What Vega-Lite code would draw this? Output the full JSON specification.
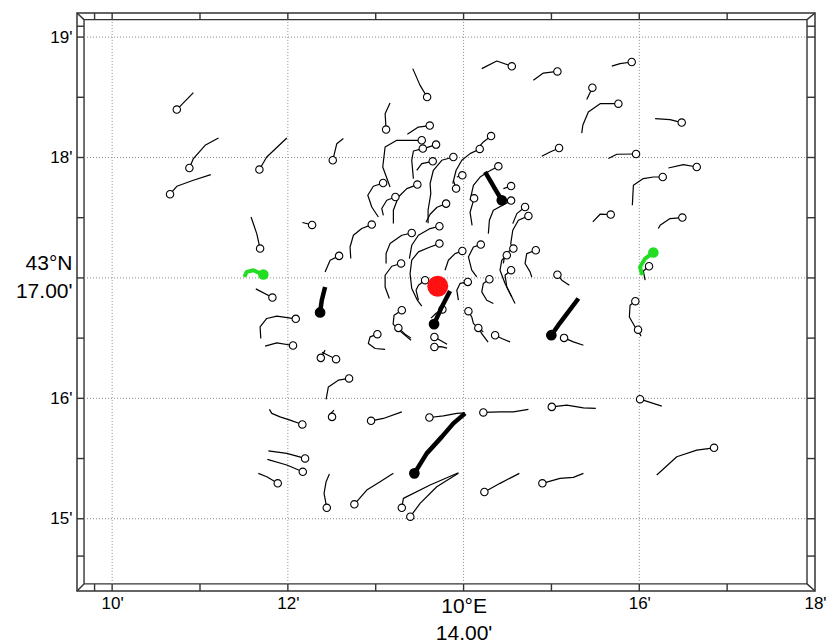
{
"$schema":"https://vega.github.io/schema/vega-lite/v6.json",
"width":738,"height":578,
"autosize":{"type":"none"},
"padding":{"left":77,"top":13,"right":12,"bottom":52},
"background":"#ffffff",
"config":{"view":{"stroke":"#333333","strokeWidth":1.5},"font":"Liberation Sans"},
"datasets":{
"fr":[
{"lon":9.68,"lat":14.459,"lon2":17.909,"lat2":14.459},
{"lon":9.68,"lat":19.145,"lon2":17.909,"lat2":19.145},
{"lon":9.68,"lat":14.459,"lon2":9.68,"lat2":19.145},
{"lon":17.909,"lat":14.459,"lon2":17.909,"lat2":19.145},
{"lon":9.6,"lat":19.2,"lon2":9.68,"lat2":19.145},
{"lon":18,"lat":19.2,"lon2":17.909,"lat2":19.145},
{"lon":9.6,"lat":14.4,"lon2":9.68,"lat2":14.459},
{"lon":18,"lat":14.4,"lon2":17.909,"lat2":14.459},
{"lon":9.8,"lat":14.4,"lon2":9.8,"lat2":14.459},{"lon":9.8,"lat":19.145,"lon2":9.8,"lat2":19.2},
{"lon":10,"lat":14.4,"lon2":10,"lat2":14.459},{"lon":10,"lat":19.145,"lon2":10,"lat2":19.2},
{"lon":11,"lat":14.4,"lon2":11,"lat2":14.459},{"lon":11,"lat":19.145,"lon2":11,"lat2":19.2},
{"lon":12,"lat":14.4,"lon2":12,"lat2":14.459},{"lon":12,"lat":19.145,"lon2":12,"lat2":19.2},
{"lon":13,"lat":14.4,"lon2":13,"lat2":14.459},{"lon":13,"lat":19.145,"lon2":13,"lat2":19.2},
{"lon":14,"lat":14.4,"lon2":14,"lat2":14.459},{"lon":14,"lat":19.145,"lon2":14,"lat2":19.2},
{"lon":15,"lat":14.4,"lon2":15,"lat2":14.459},{"lon":15,"lat":19.145,"lon2":15,"lat2":19.2},
{"lon":16,"lat":14.4,"lon2":16,"lat2":14.459},{"lon":16,"lat":19.145,"lon2":16,"lat2":19.2},
{"lon":17,"lat":14.4,"lon2":17,"lat2":14.459},{"lon":17,"lat":19.145,"lon2":17,"lat2":19.2},
{"lon":9.6,"lat":19.09,"lon2":9.68,"lat2":19.09},{"lon":17.909,"lat":19.09,"lon2":18,"lat2":19.09},
{"lon":9.6,"lat":19,"lon2":9.68,"lat2":19},{"lon":17.909,"lat":19,"lon2":18,"lat2":19},
{"lon":9.6,"lat":18.5,"lon2":9.68,"lat2":18.5},{"lon":17.909,"lat":18.5,"lon2":18,"lat2":18.5},
{"lon":9.6,"lat":18,"lon2":9.68,"lat2":18},{"lon":17.909,"lat":18,"lon2":18,"lat2":18},
{"lon":9.6,"lat":17.5,"lon2":9.68,"lat2":17.5},{"lon":17.909,"lat":17.5,"lon2":18,"lat2":17.5},
{"lon":9.6,"lat":17,"lon2":9.68,"lat2":17},{"lon":17.909,"lat":17,"lon2":18,"lat2":17},
{"lon":9.6,"lat":16.5,"lon2":9.68,"lat2":16.5},{"lon":17.909,"lat":16.5,"lon2":18,"lat2":16.5},
{"lon":9.6,"lat":16,"lon2":9.68,"lat2":16},{"lon":17.909,"lat":16,"lon2":18,"lat2":16},
{"lon":9.6,"lat":15.5,"lon2":9.68,"lat2":15.5},{"lon":17.909,"lat":15.5,"lon2":18,"lat2":15.5},
{"lon":9.6,"lat":15,"lon2":9.68,"lat2":15},{"lon":17.909,"lat":15,"lon2":18,"lat2":15},
{"lon":9.6,"lat":14.69,"lon2":9.68,"lat2":14.69},{"lon":17.909,"lat":14.69,"lon2":18,"lat2":14.69}
],
"gr":[
{"lon":10,"lat":14.459,"lon2":10,"lat2":19.145},
{"lon":12,"lat":14.459,"lon2":12,"lat2":19.145},
{"lon":14,"lat":14.459,"lon2":14,"lat2":19.145},
{"lon":16,"lat":14.459,"lon2":16,"lat2":19.145},
{"lon":9.68,"lat":15,"lon2":17.909,"lat2":15},
{"lon":9.68,"lat":16,"lon2":17.909,"lat2":16},
{"lon":9.68,"lat":17,"lon2":17.909,"lat2":17},
{"lon":9.68,"lat":18,"lon2":17.909,"lat2":18},
{"lon":9.68,"lat":19,"lon2":17.909,"lat2":19}
],
"tr":[
{"id":"a1","k":0,"lon":10.925,"lat":18.539,"t":"n"},{"id":"a1","k":1,"lon":10.736,"lat":18.398,"t":"n","e":1},
{"id":"a2","k":0,"lon":11.21,"lat":18.162,"t":"n"},{"id":"a2","k":1,"lon":11.058,"lat":18.101,"t":"n"},{"id":"a2","k":2,"lon":10.925,"lat":17.991,"t":"n"},{"id":"a2","k":3,"lon":10.879,"lat":17.913,"t":"n","e":1},
{"id":"a3","k":0,"lon":11.123,"lat":17.858,"t":"n"},{"id":"a3","k":1,"lon":10.925,"lat":17.811,"t":"n"},{"id":"a3","k":2,"lon":10.736,"lat":17.761,"t":"n"},{"id":"a3","k":3,"lon":10.659,"lat":17.695,"t":"n","e":1},
{"id":"a4","k":0,"lon":11.988,"lat":18.162,"t":"n"},{"id":"a4","k":1,"lon":11.76,"lat":18.004,"t":"n"},{"id":"a4","k":2,"lon":11.676,"lat":17.9,"t":"n","e":1},
{"id":"a5","k":0,"lon":12.632,"lat":18.157,"t":"n"},{"id":"a5","k":1,"lon":12.557,"lat":18.115,"t":"n"},{"id":"a5","k":2,"lon":12.511,"lat":17.977,"t":"n","e":1},
{"id":"a6","k":0,"lon":12.165,"lat":17.46,"t":"n"},{"id":"a6","k":1,"lon":12.276,"lat":17.44,"t":"n","e":1},
{"id":"a7","k":0,"lon":11.581,"lat":17.506,"t":"n"},{"id":"a7","k":1,"lon":11.646,"lat":17.368,"t":"n"},{"id":"a7","k":2,"lon":11.684,"lat":17.244,"t":"n","e":1},
{"id":"a8","k":0,"lon":11.513,"lat":17.022,"t":"g"},{"id":"a8","k":1,"lon":11.532,"lat":17.05,"t":"g"},{"id":"a8","k":2,"lon":11.608,"lat":17.064,"t":"g"},{"id":"a8","k":3,"lon":11.721,"lat":17.028,"t":"g","e":1},
{"id":"a9","k":0,"lon":11.635,"lat":16.909,"t":"n"},{"id":"a9","k":1,"lon":11.824,"lat":16.837,"t":"n","e":1},
{"id":"a10","k":0,"lon":11.692,"lat":16.497,"t":"n"},{"id":"a10","k":1,"lon":11.684,"lat":16.593,"t":"n"},{"id":"a10","k":2,"lon":11.76,"lat":16.663,"t":"n"},{"id":"a10","k":3,"lon":11.874,"lat":16.682,"t":"n"},{"id":"a10","k":4,"lon":12.09,"lat":16.66,"t":"n","e":1},
{"id":"a11","k":0,"lon":11.741,"lat":16.433,"t":"n"},{"id":"a11","k":1,"lon":11.874,"lat":16.461,"t":"n"},{"id":"a11","k":2,"lon":12.059,"lat":16.439,"t":"n","e":1},
{"id":"a12","k":0,"lon":12.424,"lat":16.925,"t":"b"},{"id":"a12","k":1,"lon":12.386,"lat":16.815,"t":"b"},{"id":"a12","k":2,"lon":12.367,"lat":16.713,"t":"b","e":1},
{"id":"a13","k":0,"lon":12.389,"lat":16.383,"t":"n"},{"id":"a13","k":1,"lon":12.549,"lat":16.325,"t":"n","e":1},
{"id":"a15","k":0,"lon":12.424,"lat":16.4,"t":"n"},{"id":"a15","k":1,"lon":12.375,"lat":16.336,"t":"n","e":1},
{"id":"a14","k":0,"lon":12.424,"lat":17.05,"t":"n"},{"id":"a14","k":1,"lon":12.481,"lat":17.147,"t":"n"},{"id":"a14","k":2,"lon":12.583,"lat":17.183,"t":"n","e":1},
{"id":"B1","k":0,"lon":14.207,"lat":18.738,"t":"n"},{"id":"B1","k":1,"lon":14.378,"lat":18.801,"t":"n"},{"id":"B1","k":2,"lon":14.549,"lat":18.757,"t":"n","e":1},
{"id":"B2","k":0,"lon":14.794,"lat":18.641,"t":"n"},{"id":"B2","k":1,"lon":14.908,"lat":18.701,"t":"n"},{"id":"B2","k":2,"lon":15.068,"lat":18.715,"t":"n","e":1},
{"id":"B3","k":0,"lon":13.422,"lat":18.738,"t":"n"},{"id":"B3","k":1,"lon":13.505,"lat":18.599,"t":"n"},{"id":"B3","k":2,"lon":13.585,"lat":18.502,"t":"n","e":1},
{"id":"B4","k":0,"lon":13.163,"lat":18.452,"t":"n"},{"id":"B4","k":1,"lon":13.107,"lat":18.364,"t":"n"},{"id":"B4","k":2,"lon":13.118,"lat":18.232,"t":"n","e":1},
{"id":"B5","k":0,"lon":13.36,"lat":18.193,"t":"n"},{"id":"B5","k":1,"lon":13.486,"lat":18.253,"t":"n"},{"id":"B5","k":2,"lon":13.615,"lat":18.265,"t":"n","e":1},
{"id":"B6","k":0,"lon":13.163,"lat":17.755,"t":"n"},{"id":"B6","k":1,"lon":13.08,"lat":17.921,"t":"n"},{"id":"B6","k":2,"lon":13.107,"lat":18.087,"t":"n"},{"id":"B6","k":3,"lon":13.24,"lat":18.143,"t":"n"},{"id":"B6","k":4,"lon":13.524,"lat":18.143,"t":"n","e":1},
{"id":"B7","k":0,"lon":13.429,"lat":17.825,"t":"n"},{"id":"B7","k":1,"lon":13.41,"lat":17.977,"t":"n"},{"id":"B7","k":2,"lon":13.429,"lat":18.054,"t":"n"},{"id":"B7","k":3,"lon":13.536,"lat":18.074,"t":"n","e":1},
{"id":"B8","k":0,"lon":13.581,"lat":18.082,"t":"n"},{"id":"B8","k":1,"lon":13.687,"lat":18.107,"t":"n","e":1},
{"id":"B9","k":0,"lon":14.168,"lat":18.082,"t":"n"},{"id":"B9","k":1,"lon":14.225,"lat":18.129,"t":"n"},{"id":"B9","k":2,"lon":14.313,"lat":18.178,"t":"n","e":1},
{"id":"B10","k":0,"lon":13.877,"lat":17.783,"t":"n"},{"id":"B10","k":1,"lon":13.915,"lat":17.894,"t":"n"},{"id":"B10","k":2,"lon":13.98,"lat":17.977,"t":"n"},{"id":"B10","k":3,"lon":14.074,"lat":18.032,"t":"n"},{"id":"B10","k":4,"lon":14.184,"lat":18.071,"t":"n","e":1},
{"id":"B11","k":0,"lon":13.596,"lat":17.454,"t":"n"},{"id":"B11","k":1,"lon":13.596,"lat":17.562,"t":"n"},{"id":"B11","k":2,"lon":13.627,"lat":17.7,"t":"n"},{"id":"B11","k":3,"lon":13.619,"lat":17.783,"t":"n"},{"id":"B11","k":4,"lon":13.656,"lat":17.894,"t":"n"},{"id":"B11","k":5,"lon":13.752,"lat":17.977,"t":"n"},{"id":"B11","k":6,"lon":13.884,"lat":18.004,"t":"n","e":1},
{"id":"B12","k":0,"lon":13.467,"lat":17.894,"t":"n"},{"id":"B12","k":1,"lon":13.524,"lat":17.949,"t":"n"},{"id":"B12","k":2,"lon":13.649,"lat":17.968,"t":"n","e":1},
{"id":"B13","k":0,"lon":13.923,"lat":17.838,"t":"n"},{"id":"B13","k":1,"lon":13.986,"lat":17.852,"t":"n","e":1},
{"id":"B14","k":0,"lon":13.884,"lat":17.811,"t":"n"},{"id":"B14","k":1,"lon":13.915,"lat":17.742,"t":"n","e":1},
{"id":"B15","k":0,"lon":14.074,"lat":17.645,"t":"n"},{"id":"B15","k":1,"lon":14.112,"lat":17.769,"t":"n"},{"id":"B15","k":2,"lon":14.188,"lat":17.838,"t":"n"},{"id":"B15","k":3,"lon":14.294,"lat":17.888,"t":"n"},{"id":"B15","k":4,"lon":14.396,"lat":17.927,"t":"n","e":1},
{"id":"B16","k":0,"lon":14.245,"lat":17.88,"t":"b"},{"id":"B16","k":1,"lon":14.378,"lat":17.714,"t":"b"},{"id":"B16","k":2,"lon":14.435,"lat":17.645,"t":"b","e":1},
{"id":"B17","k":0,"lon":14.453,"lat":17.742,"t":"n"},{"id":"B17","k":1,"lon":14.541,"lat":17.763,"t":"n","e":1},
{"id":"B18","k":0,"lon":14.282,"lat":17.368,"t":"n"},{"id":"B18","k":1,"lon":14.294,"lat":17.479,"t":"n"},{"id":"B18","k":2,"lon":14.339,"lat":17.562,"t":"n"},{"id":"B18","k":3,"lon":14.541,"lat":17.642,"t":"n","e":1},
{"id":"B19","k":0,"lon":14.097,"lat":17.437,"t":"n"},{"id":"B19","k":1,"lon":14.074,"lat":17.545,"t":"n"},{"id":"B19","k":2,"lon":14.12,"lat":17.661,"t":"n","e":1},
{"id":"B20","k":0,"lon":13.573,"lat":17.462,"t":"n"},{"id":"B20","k":1,"lon":13.619,"lat":17.529,"t":"n"},{"id":"B20","k":2,"lon":13.698,"lat":17.587,"t":"n"},{"id":"B20","k":3,"lon":13.801,"lat":17.617,"t":"n","e":1},
{"id":"B21","k":0,"lon":14.56,"lat":17.451,"t":"n"},{"id":"B21","k":1,"lon":14.606,"lat":17.534,"t":"n"},{"id":"B21","k":2,"lon":14.7,"lat":17.589,"t":"n","e":1},
{"id":"B22","k":0,"lon":14.56,"lat":17.23,"t":"n"},{"id":"B22","k":1,"lon":14.537,"lat":17.285,"t":"n"},{"id":"B22","k":2,"lon":14.56,"lat":17.396,"t":"n"},{"id":"B22","k":3,"lon":14.624,"lat":17.479,"t":"n"},{"id":"B22","k":4,"lon":14.738,"lat":17.515,"t":"n","e":1},
{"id":"B23","k":0,"lon":13.03,"lat":17.506,"t":"n"},{"id":"B23","k":1,"lon":12.955,"lat":17.589,"t":"n"},{"id":"B23","k":2,"lon":12.91,"lat":17.686,"t":"n"},{"id":"B23","k":3,"lon":12.973,"lat":17.761,"t":"n"},{"id":"B23","k":4,"lon":13.084,"lat":17.788,"t":"n","e":1},
{"id":"B24","k":0,"lon":13.087,"lat":17.52,"t":"n"},{"id":"B24","k":1,"lon":13.069,"lat":17.576,"t":"n"},{"id":"B24","k":2,"lon":13.126,"lat":17.645,"t":"n"},{"id":"B24","k":3,"lon":13.224,"lat":17.672,"t":"n","e":1},
{"id":"B25","k":0,"lon":13.201,"lat":17.451,"t":"n"},{"id":"B25","k":1,"lon":13.201,"lat":17.562,"t":"n"},{"id":"B25","k":2,"lon":13.258,"lat":17.672,"t":"n"},{"id":"B25","k":3,"lon":13.354,"lat":17.742,"t":"n"},{"id":"B25","k":4,"lon":13.474,"lat":17.775,"t":"n","e":1},
{"id":"B27","k":0,"lon":14.89,"lat":18.01,"t":"n"},{"id":"B27","k":1,"lon":14.985,"lat":18.046,"t":"n"},{"id":"B27","k":2,"lon":15.087,"lat":18.079,"t":"n","e":1},
{"id":"C3","k":0,"lon":14.453,"lat":17.12,"t":"n"},{"id":"C3","k":1,"lon":14.472,"lat":17.202,"t":"n"},{"id":"C3","k":2,"lon":14.567,"lat":17.244,"t":"n","e":1},
{"id":"C4","k":0,"lon":14.549,"lat":16.842,"t":"n"},{"id":"C4","k":1,"lon":14.472,"lat":16.954,"t":"n"},{"id":"C4","k":2,"lon":14.415,"lat":17.064,"t":"n"},{"id":"C4","k":3,"lon":14.435,"lat":17.147,"t":"n"},{"id":"C4","k":4,"lon":14.492,"lat":17.188,"t":"n","e":1},
{"id":"C5","k":0,"lon":14.586,"lat":16.788,"t":"n"},{"id":"C5","k":1,"lon":14.492,"lat":16.925,"t":"n"},{"id":"C5","k":2,"lon":14.472,"lat":17.022,"t":"n"},{"id":"C5","k":3,"lon":14.541,"lat":17.064,"t":"n","e":1},
{"id":"C6","k":0,"lon":14.776,"lat":17.008,"t":"n"},{"id":"C6","k":1,"lon":14.757,"lat":17.05,"t":"n"},{"id":"C6","k":2,"lon":14.7,"lat":17.12,"t":"n"},{"id":"C6","k":3,"lon":14.719,"lat":17.202,"t":"n"},{"id":"C6","k":4,"lon":14.822,"lat":17.23,"t":"n","e":1},
{"id":"C7","k":0,"lon":15.204,"lat":16.939,"t":"n"},{"id":"C7","k":1,"lon":15.118,"lat":16.981,"t":"n"},{"id":"C7","k":2,"lon":15.068,"lat":17.027,"t":"n","e":1},
{"id":"C8","k":0,"lon":14.339,"lat":16.788,"t":"n"},{"id":"C8","k":1,"lon":14.264,"lat":16.815,"t":"n"},{"id":"C8","k":2,"lon":14.207,"lat":16.884,"t":"n"},{"id":"C8","k":3,"lon":14.225,"lat":16.954,"t":"n"},{"id":"C8","k":4,"lon":14.294,"lat":16.989,"t":"n","e":1},
{"id":"C9","k":0,"lon":14.15,"lat":17.008,"t":"n"},{"id":"C9","k":1,"lon":14.093,"lat":17.064,"t":"n"},{"id":"C9","k":2,"lon":14.055,"lat":17.174,"t":"n"},{"id":"C9","k":3,"lon":14.112,"lat":17.257,"t":"n"},{"id":"C9","k":4,"lon":14.196,"lat":17.277,"t":"n","e":1},
{"id":"C10","k":0,"lon":13.789,"lat":17.064,"t":"n"},{"id":"C10","k":1,"lon":13.827,"lat":17.147,"t":"n"},{"id":"C10","k":2,"lon":13.903,"lat":17.202,"t":"n"},{"id":"C10","k":3,"lon":13.986,"lat":17.224,"t":"n","e":1},
{"id":"C11","k":0,"lon":13.941,"lat":16.815,"t":"n"},{"id":"C11","k":1,"lon":13.923,"lat":16.898,"t":"n"},{"id":"C11","k":2,"lon":13.96,"lat":16.954,"t":"n"},{"id":"C11","k":3,"lon":14.048,"lat":16.967,"t":"n","e":1},
{"id":"C12","k":0,"lon":12.716,"lat":17.161,"t":"n"},{"id":"C12","k":1,"lon":12.708,"lat":17.257,"t":"n"},{"id":"C12","k":2,"lon":12.746,"lat":17.354,"t":"n"},{"id":"C12","k":3,"lon":12.841,"lat":17.41,"t":"n"},{"id":"C12","k":4,"lon":12.955,"lat":17.443,"t":"n","e":1},
{"id":"C13","k":0,"lon":13.118,"lat":17.12,"t":"n"},{"id":"C13","k":1,"lon":13.118,"lat":17.202,"t":"n"},{"id":"C13","k":2,"lon":13.163,"lat":17.285,"t":"n"},{"id":"C13","k":3,"lon":13.297,"lat":17.354,"t":"n"},{"id":"C13","k":4,"lon":13.41,"lat":17.373,"t":"n","e":1},
{"id":"C14","k":0,"lon":13.383,"lat":17.161,"t":"n"},{"id":"C14","k":1,"lon":13.41,"lat":17.271,"t":"n"},{"id":"C14","k":2,"lon":13.486,"lat":17.354,"t":"n"},{"id":"C14","k":3,"lon":13.619,"lat":17.41,"t":"n"},{"id":"C14","k":4,"lon":13.725,"lat":17.429,"t":"n","e":1},
{"id":"C15","k":0,"lon":13.524,"lat":16.765,"t":"n"},{"id":"C15","k":1,"lon":13.474,"lat":16.815,"t":"n"},{"id":"C15","k":2,"lon":13.41,"lat":16.912,"t":"n"},{"id":"C15","k":3,"lon":13.391,"lat":17.037,"t":"n"},{"id":"C15","k":4,"lon":13.41,"lat":17.147,"t":"n"},{"id":"C15","k":5,"lon":13.486,"lat":17.216,"t":"n"},{"id":"C15","k":6,"lon":13.619,"lat":17.257,"t":"n"},{"id":"C15","k":7,"lon":13.725,"lat":17.285,"t":"n","e":1},
{"id":"C16","k":0,"lon":13.155,"lat":16.829,"t":"n"},{"id":"C16","k":1,"lon":13.107,"lat":16.925,"t":"n"},{"id":"C16","k":2,"lon":13.107,"lat":17.022,"t":"n"},{"id":"C16","k":3,"lon":13.183,"lat":17.097,"t":"n"},{"id":"C16","k":4,"lon":13.289,"lat":17.12,"t":"n","e":1},
{"id":"C17","k":0,"lon":13.486,"lat":16.815,"t":"n"},{"id":"C17","k":1,"lon":13.459,"lat":16.898,"t":"n"},{"id":"C17","k":2,"lon":13.486,"lat":16.939,"t":"n"},{"id":"C17","k":3,"lon":13.562,"lat":16.981,"t":"n","e":1},
{"id":"C18","k":0,"lon":13.846,"lat":16.892,"t":"b"},{"id":"C18","k":1,"lon":13.752,"lat":16.759,"t":"b"},{"id":"C18","k":2,"lon":13.664,"lat":16.616,"t":"b","e":1},
{"id":"C19","k":0,"lon":13.63,"lat":16.666,"t":"n"},{"id":"C19","k":1,"lon":13.687,"lat":16.707,"t":"n"},{"id":"C19","k":2,"lon":13.759,"lat":16.738,"t":"n","e":1},
{"id":"T1","k":0,"lon":13.402,"lat":16.483,"t":"n"},{"id":"T1","k":1,"lon":13.277,"lat":16.558,"t":"n"},{"id":"T1","k":2,"lon":13.198,"lat":16.616,"t":"n"},{"id":"T1","k":3,"lon":13.209,"lat":16.69,"t":"n"},{"id":"T1","k":4,"lon":13.297,"lat":16.732,"t":"n","e":1},
{"id":"T2","k":0,"lon":13.402,"lat":16.5,"t":"n"},{"id":"T2","k":1,"lon":13.334,"lat":16.533,"t":"n"},{"id":"T2","k":2,"lon":13.258,"lat":16.585,"t":"n","e":1},
{"id":"C20","k":0,"lon":13.107,"lat":16.406,"t":"n"},{"id":"C20","k":1,"lon":12.993,"lat":16.414,"t":"n"},{"id":"C20","k":2,"lon":12.916,"lat":16.456,"t":"n"},{"id":"C20","k":3,"lon":12.936,"lat":16.51,"t":"n"},{"id":"C20","k":4,"lon":13.019,"lat":16.533,"t":"n","e":1},
{"id":"C21","k":0,"lon":13.812,"lat":16.45,"t":"n"},{"id":"C21","k":1,"lon":13.733,"lat":16.483,"t":"n"},{"id":"C21","k":2,"lon":13.668,"lat":16.51,"t":"n","e":1},
{"id":"C22","k":0,"lon":13.812,"lat":16.417,"t":"n"},{"id":"C22","k":1,"lon":13.744,"lat":16.429,"t":"n"},{"id":"C22","k":2,"lon":13.668,"lat":16.427,"t":"n","e":1},
{"id":"C23","k":0,"lon":14.225,"lat":16.552,"t":"n"},{"id":"C23","k":1,"lon":14.168,"lat":16.58,"t":"n"},{"id":"C23","k":2,"lon":14.112,"lat":16.622,"t":"n"},{"id":"C23","k":3,"lon":14.093,"lat":16.676,"t":"n"},{"id":"C23","k":4,"lon":14.055,"lat":16.724,"t":"n","e":1},
{"id":"C24","k":0,"lon":14.279,"lat":16.466,"t":"n"},{"id":"C24","k":1,"lon":14.211,"lat":16.533,"t":"n"},{"id":"C24","k":2,"lon":14.168,"lat":16.585,"t":"n","e":1},
{"id":"C25","k":0,"lon":14.529,"lat":16.469,"t":"n"},{"id":"C25","k":1,"lon":14.435,"lat":16.497,"t":"n"},{"id":"C25","k":2,"lon":14.359,"lat":16.524,"t":"n","e":1},
{"id":"C26","k":0,"lon":15.307,"lat":16.829,"t":"b"},{"id":"C26","k":1,"lon":15.098,"lat":16.627,"t":"b"},{"id":"C26","k":2,"lon":14.999,"lat":16.524,"t":"b","e":1},
{"id":"C27","k":0,"lon":15.364,"lat":16.441,"t":"n"},{"id":"C27","k":1,"lon":15.25,"lat":16.469,"t":"n"},{"id":"C27","k":2,"lon":15.144,"lat":16.502,"t":"n","e":1},
{"id":"D1","k":0,"lon":15.402,"lat":18.481,"t":"n"},{"id":"D1","k":1,"lon":15.466,"lat":18.58,"t":"n","e":1},
{"id":"D2","k":0,"lon":15.345,"lat":18.203,"t":"n"},{"id":"D2","k":1,"lon":15.357,"lat":18.267,"t":"n"},{"id":"D2","k":2,"lon":15.42,"lat":18.378,"t":"n"},{"id":"D2","k":3,"lon":15.554,"lat":18.447,"t":"n"},{"id":"D2","k":4,"lon":15.762,"lat":18.447,"t":"n","e":1},
{"id":"D3","k":0,"lon":16.18,"lat":18.323,"t":"n"},{"id":"D3","k":1,"lon":16.35,"lat":18.315,"t":"n"},{"id":"D3","k":2,"lon":16.483,"lat":18.29,"t":"n","e":1},
{"id":"D4","k":0,"lon":15.648,"lat":17.991,"t":"n"},{"id":"D4","k":1,"lon":15.744,"lat":18.027,"t":"n"},{"id":"D4","k":2,"lon":15.963,"lat":18.029,"t":"n","e":1},
{"id":"D5","k":0,"lon":16.331,"lat":17.913,"t":"n"},{"id":"D5","k":1,"lon":16.502,"lat":17.941,"t":"n"},{"id":"D5","k":2,"lon":16.654,"lat":17.921,"t":"n","e":1},
{"id":"D6","k":0,"lon":15.921,"lat":17.603,"t":"n"},{"id":"D6","k":1,"lon":15.933,"lat":17.769,"t":"n"},{"id":"D6","k":2,"lon":16.046,"lat":17.825,"t":"n"},{"id":"D6","k":3,"lon":16.16,"lat":17.838,"t":"n"},{"id":"D6","k":4,"lon":16.267,"lat":17.838,"t":"n","e":1},
{"id":"D7","k":0,"lon":15.471,"lat":17.465,"t":"n"},{"id":"D7","k":1,"lon":15.554,"lat":17.529,"t":"n"},{"id":"D7","k":2,"lon":15.675,"lat":17.526,"t":"n","e":1},
{"id":"D8","k":0,"lon":16.217,"lat":17.41,"t":"n"},{"id":"D8","k":1,"lon":16.237,"lat":17.437,"t":"n"},{"id":"D8","k":2,"lon":16.35,"lat":17.493,"t":"n"},{"id":"D8","k":3,"lon":16.49,"lat":17.501,"t":"n","e":1},
{"id":"D9","k":0,"lon":16.028,"lat":17.037,"t":"g"},{"id":"D9","k":1,"lon":16.009,"lat":17.091,"t":"g"},{"id":"D9","k":2,"lon":16.066,"lat":17.161,"t":"g"},{"id":"D9","k":3,"lon":16.16,"lat":17.211,"t":"g","e":1},
{"id":"D10","k":0,"lon":16.066,"lat":16.981,"t":"n"},{"id":"D10","k":1,"lon":16.046,"lat":17.058,"t":"n"},{"id":"D10","k":2,"lon":16.111,"lat":17.097,"t":"n","e":1},
{"id":"D11","k":0,"lon":15.99,"lat":16.552,"t":"n"},{"id":"D11","k":1,"lon":15.952,"lat":16.593,"t":"n"},{"id":"D11","k":2,"lon":15.887,"lat":16.676,"t":"n"},{"id":"D11","k":3,"lon":15.895,"lat":16.773,"t":"n"},{"id":"D11","k":4,"lon":15.955,"lat":16.807,"t":"n","e":1},
{"id":"D12","k":0,"lon":16.02,"lat":16.516,"t":"n"},{"id":"D12","k":1,"lon":15.986,"lat":16.57,"t":"n","e":1},
{"id":"D13","k":0,"lon":16.256,"lat":15.935,"t":"n"},{"id":"D13","k":1,"lon":16.123,"lat":15.966,"t":"n"},{"id":"D13","k":2,"lon":16.009,"lat":15.993,"t":"n","e":1},
{"id":"D14","k":0,"lon":16.199,"lat":15.363,"t":"n"},{"id":"D14","k":1,"lon":16.427,"lat":15.515,"t":"n"},{"id":"D14","k":2,"lon":16.654,"lat":15.57,"t":"n"},{"id":"D14","k":3,"lon":16.851,"lat":15.589,"t":"n","e":1},
{"id":"D15","k":0,"lon":15.687,"lat":18.759,"t":"n"},{"id":"D15","k":1,"lon":15.781,"lat":18.779,"t":"n"},{"id":"D15","k":2,"lon":15.914,"lat":18.793,"t":"n","e":1},
{"id":"E1","k":0,"lon":12.435,"lat":15.991,"t":"n"},{"id":"E1","k":1,"lon":12.461,"lat":16.095,"t":"n"},{"id":"E1","k":2,"lon":12.575,"lat":16.151,"t":"n"},{"id":"E1","k":3,"lon":12.697,"lat":16.165,"t":"n","e":1},
{"id":"E2","k":0,"lon":11.79,"lat":15.908,"t":"n"},{"id":"E2","k":1,"lon":11.817,"lat":15.875,"t":"n"},{"id":"E2","k":2,"lon":11.911,"lat":15.846,"t":"n"},{"id":"E2","k":3,"lon":12.025,"lat":15.819,"t":"n"},{"id":"E2","k":4,"lon":12.165,"lat":15.783,"t":"n","e":1},
{"id":"E3","k":0,"lon":12.526,"lat":15.902,"t":"n"},{"id":"E3","k":1,"lon":12.492,"lat":15.877,"t":"n"},{"id":"E3","k":2,"lon":12.503,"lat":15.846,"t":"n","e":1},
{"id":"E4","k":0,"lon":13.297,"lat":15.888,"t":"n"},{"id":"E4","k":1,"lon":13.087,"lat":15.833,"t":"n"},{"id":"E4","k":2,"lon":12.947,"lat":15.813,"t":"n","e":1},
{"id":"E5","k":0,"lon":14.017,"lat":15.88,"t":"n"},{"id":"E5","k":1,"lon":13.923,"lat":15.875,"t":"n"},{"id":"E5","k":2,"lon":13.77,"lat":15.855,"t":"n"},{"id":"E5","k":3,"lon":13.611,"lat":15.841,"t":"n","e":1},
{"id":"E6","k":0,"lon":14.017,"lat":15.875,"t":"b"},{"id":"E6","k":1,"lon":13.884,"lat":15.792,"t":"b"},{"id":"E6","k":2,"lon":13.752,"lat":15.68,"t":"b"},{"id":"E6","k":3,"lon":13.581,"lat":15.543,"t":"b"},{"id":"E6","k":4,"lon":13.44,"lat":15.377,"t":"b","e":1},
{"id":"E7","k":0,"lon":14.738,"lat":15.908,"t":"n"},{"id":"E7","k":1,"lon":14.567,"lat":15.888,"t":"n"},{"id":"E7","k":2,"lon":14.415,"lat":15.888,"t":"n"},{"id":"E7","k":3,"lon":14.225,"lat":15.883,"t":"n","e":1},
{"id":"E8","k":0,"lon":15.505,"lat":15.916,"t":"n"},{"id":"E8","k":1,"lon":15.364,"lat":15.921,"t":"n"},{"id":"E8","k":2,"lon":15.175,"lat":15.944,"t":"n"},{"id":"E8","k":3,"lon":15.004,"lat":15.929,"t":"n","e":1},
{"id":"E9","k":0,"lon":11.778,"lat":15.564,"t":"n"},{"id":"E9","k":1,"lon":11.988,"lat":15.543,"t":"n"},{"id":"E9","k":2,"lon":12.196,"lat":15.501,"t":"n","e":1},
{"id":"E10","k":0,"lon":11.767,"lat":15.493,"t":"n"},{"id":"E10","k":1,"lon":11.988,"lat":15.446,"t":"n"},{"id":"E10","k":2,"lon":12.17,"lat":15.39,"t":"n","e":1},
{"id":"E11","k":0,"lon":11.664,"lat":15.377,"t":"n"},{"id":"E11","k":1,"lon":11.76,"lat":15.349,"t":"n"},{"id":"E11","k":2,"lon":11.885,"lat":15.294,"t":"n","e":1},
{"id":"E12","k":0,"lon":12.473,"lat":15.371,"t":"n"},{"id":"E12","k":1,"lon":12.435,"lat":15.307,"t":"n"},{"id":"E12","k":2,"lon":12.412,"lat":15.211,"t":"n"},{"id":"E12","k":3,"lon":12.443,"lat":15.091,"t":"n","e":1},
{"id":"E13","k":0,"lon":13.201,"lat":15.377,"t":"n"},{"id":"E13","k":1,"lon":13.05,"lat":15.307,"t":"n"},{"id":"E13","k":2,"lon":12.898,"lat":15.238,"t":"n"},{"id":"E13","k":3,"lon":12.757,"lat":15.12,"t":"n","e":1},
{"id":"E14","k":0,"lon":13.941,"lat":15.382,"t":"n"},{"id":"E14","k":1,"lon":13.619,"lat":15.28,"t":"n"},{"id":"E14","k":2,"lon":13.315,"lat":15.169,"t":"n"},{"id":"E14","k":3,"lon":13.297,"lat":15.091,"t":"n","e":1},
{"id":"E15","k":0,"lon":13.941,"lat":15.377,"t":"n"},{"id":"E15","k":1,"lon":13.695,"lat":15.266,"t":"n"},{"id":"E15","k":2,"lon":13.505,"lat":15.128,"t":"n"},{"id":"E15","k":3,"lon":13.394,"lat":15.017,"t":"n","e":1},
{"id":"E16","k":0,"lon":14.635,"lat":15.377,"t":"n"},{"id":"E16","k":1,"lon":14.415,"lat":15.294,"t":"n"},{"id":"E16","k":2,"lon":14.237,"lat":15.222,"t":"n","e":1},
{"id":"E17","k":0,"lon":15.364,"lat":15.377,"t":"n"},{"id":"E17","k":1,"lon":15.25,"lat":15.344,"t":"n"},{"id":"E17","k":2,"lon":15.098,"lat":15.335,"t":"n"},{"id":"E17","k":3,"lon":14.897,"lat":15.294,"t":"n","e":1}
],
"red":[{"lon":13.706,"lat":16.931}]
},
"encoding":{
 "x":{"field":"lon","type":"quantitative","scale":{"domain":[9.6,18],"nice":false,"zero":false},
   "axis":{"values":[10,12,14,16,18],"title":null,"domain":false,"ticks":false,"tickSize":0,"grid":false,"labelPadding":4,"labelFlush":false,"labelBound":false,"labelOverlap":false,"labelColor":"#000000","labelFont":"Liberation Sans","labelLineHeight":27,
   "labelFontSize":{"condition":{"test":"datum.value == 14","value":21},"value":17},
   "labelExpr":"datum.value == 14 ? ['10°E', \"14.00'\"] : datum.value + \"'\""}},
 "y":{"field":"lat","type":"quantitative","scale":{"domain":[14.4,19.2],"nice":false,"zero":false},
   "axis":{"values":[15,16,17,18,19],"title":null,"domain":false,"ticks":false,"tickSize":0,"grid":false,"labelPadding":5,"labelFlush":false,"labelBound":false,"labelOverlap":false,"labelColor":"#000000","labelFont":"Liberation Sans","labelLineHeight":28,
   "labelFontSize":{"condition":{"test":"datum.value == 17","value":21},"value":17},
   "labelOffset":{"condition":{"test":"datum.value == 17","value":-14},"value":0},
   "labelExpr":"datum.value == 17 ? ['43°N', \"17.00'\"] : datum.value + \"'\""}}
},
"layer":[
{"data":{"name":"fr"},"mark":{"type":"rule","stroke":"#333333","strokeWidth":1.4},
 "encoding":{"x2":{"field":"lon2"},"y2":{"field":"lat2"}}},
{"data":{"name":"gr"},"mark":{"type":"rule","stroke":"#8a8a8a","strokeWidth":1,"strokeDash":[1,2]},
 "encoding":{"x2":{"field":"lon2"},"y2":{"field":"lat2"}}},
{"data":{"name":"tr"},"transform":[{"filter":"datum.t == 'n'"}],"mark":{"type":"line","stroke":"#000000","strokeWidth":1.2,"strokeJoin":"round"},
 "encoding":{"detail":{"field":"id"},"order":{"field":"k","type":"quantitative"}}},
{"data":{"name":"tr"},"transform":[{"filter":"datum.t == 'n' && datum.e == 1"}],"mark":{"type":"point","shape":"circle","size":55,"filled":true,"fill":"#ffffff","stroke":"#000000","strokeWidth":1.1,"opacity":1},
 "encoding":{}},
{"data":{"name":"tr"},"transform":[{"filter":"datum.t == 'g'"}],"mark":{"type":"line","stroke":"#22dd22","strokeWidth":4,"strokeCap":"round","strokeJoin":"round"},
 "encoding":{"detail":{"field":"id"},"order":{"field":"k","type":"quantitative"}}},
{"data":{"name":"tr"},"transform":[{"filter":"datum.t == 'g' && datum.e == 1"}],"mark":{"type":"circle","size":110,"color":"#22dd22","opacity":1},
 "encoding":{}},
{"data":{"name":"tr"},"transform":[{"filter":"datum.t == 'b'"}],"mark":{"type":"line","stroke":"#000000","strokeWidth":4.5,"strokeCap":"butt","strokeJoin":"round"},
 "encoding":{"detail":{"field":"id"},"order":{"field":"k","type":"quantitative"}}},
{"data":{"name":"tr"},"transform":[{"filter":"datum.t == 'b' && datum.e == 1"}],"mark":{"type":"circle","size":115,"color":"#000000","opacity":1},
 "encoding":{}},
{"data":{"name":"red"},"mark":{"type":"circle","size":440,"color":"#ff1111","opacity":1},
 "encoding":{}}
]
}
